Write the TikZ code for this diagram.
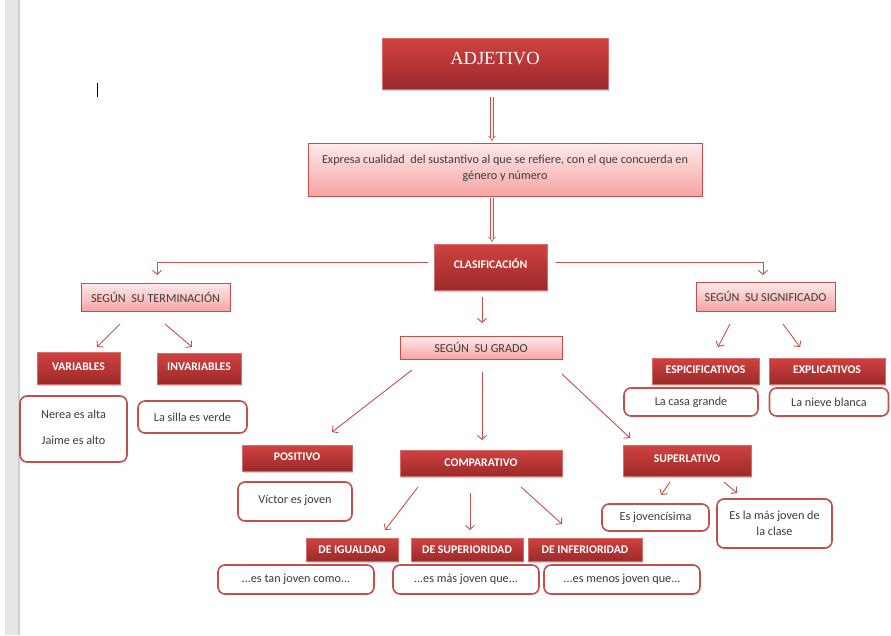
\documentclass[tikz,border=0pt]{standalone}
\usepackage{fontspec}
\setmainfont{Carlito}
\newfontfamily\titlefont{Liberation Serif}
\usetikzlibrary{arrows.meta,shadows}
\definecolor{dtop}{RGB}{208,66,64}
\definecolor{dbot}{RGB}{156,42,42}
\definecolor{dline}{RGB}{214,110,108}
\definecolor{ptop}{RGB}{255,234,234}
\definecolor{pbot}{RGB}{246,164,164}
\definecolor{pline}{RGB}{196,78,76}
\definecolor{ptext}{RGB}{60,60,60}
\definecolor{arrc}{RGB}{196,82,78}
\definecolor{stripc}{RGB}{230,230,230}
\definecolor{stripd}{RGB}{208,208,208}
\tikzset{
  darkbox/.style={rectangle, top color=dtop, bottom color=dbot, draw=dline, line width=0.4pt,
    text=white, inner sep=0pt, font=\fontsize{11.7}{13}\selectfont\bfseries,
    drop shadow={shadow xshift=1.2pt, shadow yshift=-1.5pt, opacity=0.35}},
  pinkbox/.style={rectangle, top color=ptop, bottom color=pbot, draw=pline, line width=1pt,
    text=ptext, inner sep=0pt, align=center, font=\fontsize{12.2}{17}\selectfont,
    drop shadow={shadow xshift=1pt, shadow yshift=-1.2pt, opacity=0.25}},
  exbox/.style={rectangle, rounded corners=7pt, draw=pline, line width=1.6pt, fill=white,
    text=ptext, inner sep=0pt, align=center, font=\fontsize{12.2}{17}\selectfont},
  arr/.style={draw=arrc, line width=0.9pt, -{Straight Barb[length=4pt,width=9pt]}},
  dbl/.style={draw=arrc, line width=0.6pt, double=ptop, double distance=2pt, -{Implies}}
}
\begin{document}
\begin{tikzpicture}[x=1pt,y=-1pt]
\useasboundingbox (0,0) rectangle (891,635);
\fill[white] (0,0) rectangle (891,635);
\fill[stripc] (5,0) rectangle (18,635);
\fill[stripd] (18,0) rectangle (19.5,635);
\draw[black, line width=0.9pt] (97,83) -- (97,97);

% main chain
\node[darkbox, minimum width=226pt, minimum height=51pt] (adj) at (495,63.5)
  {\raisebox{11pt}{\titlefont\mdseries\fontsize{18.5}{20}\selectfont ADJETIVO}};
\node[pinkbox, minimum width=394pt, minimum height=53pt] (exp) at (505,169.5)
  {\raisebox{5pt}{\shortstack{Expresa cualidad\ \ del sustantivo al que se refiere, con el que concuerda en\\[3pt] género y número}}};
\node[darkbox, minimum width=113pt, minimum height=46pt] (clas) at (490.5,267)
  {\raisebox{7pt}{CLASIFICACIÓN}};

% level 2
\node[pinkbox, minimum width=149pt, minimum height=28pt] (term) at (155.5,297) {SEGÚN\ \ SU TERMINACIÓN};
\node[pinkbox, minimum width=139pt, minimum height=29pt] (signif) at (765.5,296.5) {SEGÚN\ \ SU SIGNIFICADO};
\node[pinkbox, minimum width=162pt, minimum height=23pt] (grado) at (481,347.5) {SEGÚN\ \ SU GRADO};

% terminacion
\node[darkbox, minimum width=83pt, minimum height=32pt] (var) at (78.5,368) {\raisebox{3pt}{VARIABLES}};
\node[darkbox, minimum width=84pt, minimum height=31pt] (invar) at (199,368.5) {\raisebox{3pt}{INVARIABLES}};
\node[exbox, minimum width=107pt, minimum height=66pt] (nerea) at (73.5,429)
  {\raisebox{3pt}{\shortstack{Nerea es alta\\[14pt]Jaime es alto}}};
\node[exbox, minimum width=109pt, minimum height=32pt] (silla) at (192.5,417) {La silla es verde};

% significado
\node[darkbox, minimum width=107pt, minimum height=26pt] (esp) at (705.5,371) {\raisebox{2pt}{ESPICIFICATIVOS}};
\node[darkbox, minimum width=116pt, minimum height=26pt] (expl) at (827,371) {\raisebox{2pt}{EXPLICATIVOS}};
\node[exbox, minimum width=134pt, minimum height=28pt] (casa) at (691,402) {La casa grande};
\node[exbox, minimum width=119pt, minimum height=28pt] (nieve) at (829,402) {La nieve blanca};

% grado
\node[darkbox, minimum width=110pt, minimum height=26pt] (pos) at (297,458) {\raisebox{2pt}{POSITIVO}};
\node[darkbox, minimum width=162pt, minimum height=26pt] (comp) at (481,463) {COMPARATIVO};
\node[darkbox, minimum width=128pt, minimum height=31pt] (sup) at (687,460.5) {\raisebox{3pt}{SUPERLATIVO}};
\node[exbox, minimum width=114pt, minimum height=39pt] (victor) at (295,501.5) {\raisebox{4pt}{Víctor es joven}};
\node[exbox, minimum width=107pt, minimum height=27pt] (jov) at (655.5,517.5) {Es jovencísima};
\node[exbox, minimum width=115pt, minimum height=49pt] (masj) at (774.5,523.5)
  {\shortstack{Es la más joven de\\[3pt]la clase}};

% comparativo
\node[darkbox, minimum width=92pt, minimum height=23pt] (igual) at (352,549.5) {DE IGUALDAD};
\node[darkbox, minimum width=112pt, minimum height=23pt] (superior) at (467,549.5) {DE SUPERIORIDAD};
\node[darkbox, minimum width=114pt, minimum height=23pt] (inferior) at (585,549.5) {DE INFERIORIDAD};
\node[exbox, minimum width=156pt, minimum height=29pt] (tan) at (296,579.5) {...es tan joven como...};
\node[exbox, minimum width=146pt, minimum height=29pt] (mas) at (466,579.5) {...es más joven que...};
\node[exbox, minimum width=156pt, minimum height=29pt] (menos) at (622,579.5) {...es menos joven que...};

% connector end points
\coordinate (d1a) at (492,97);   \coordinate (d1b) at (492,141);
\coordinate (d2a) at (492,198);  \coordinate (d2b) at (492,242);
\coordinate (ctl) at (428,262);  \coordinate (ctt) at (157,275);
\coordinate (csr) at (556,262);  \coordinate (cst) at (763,275);
\coordinate (cga) at (482,297);  \coordinate (cgb) at (482,323);
\coordinate (tva) at (120,324);  \coordinate (tvb) at (97,347);
\coordinate (tia) at (165,324);  \coordinate (tib) at (192,347);
\coordinate (sea) at (730,324);  \coordinate (seb) at (718,347);
\coordinate (sxa) at (783,324);  \coordinate (sxb) at (800,347);
\coordinate (gpa) at (412,370);  \coordinate (gpb) at (332,432);
\coordinate (gca) at (482,372);  \coordinate (gcb) at (482,440);
\coordinate (gsa) at (562,374);  \coordinate (gsb) at (630,438);
\coordinate (cia) at (418,487);  \coordinate (cib) at (385,530);
\coordinate (csa) at (470,493);  \coordinate (csb) at (470,530);
\coordinate (cna) at (521,487);  \coordinate (cnb) at (562,524);
\coordinate (sja) at (670,482);  \coordinate (sjb) at (661,495);
\coordinate (sma) at (724,482);  \coordinate (smb) at (737,493);

\draw[dbl] (d1a) -- (d1b);
\draw[dbl] (d2a) -- (d2b);
\draw[arr] (ctl) -| (ctt);
\draw[arr] (csr) -| (cst);
\draw[arr] (cga) -- (cgb);
\draw[arr] (tva) -- (tvb);
\draw[arr] (tia) -- (tib);
\draw[arr] (sea) -- (seb);
\draw[arr] (sxa) -- (sxb);
\draw[arr] (gpa) -- (gpb);
\draw[arr] (gca) -- (gcb);
\draw[arr] (gsa) -- (gsb);
\draw[arr] (cia) -- (cib);
\draw[arr] (csa) -- (csb);
\draw[arr] (cna) -- (cnb);
\draw[arr] (sja) -- (sjb);
\draw[arr] (sma) -- (smb);
\end{tikzpicture}
\end{document}
